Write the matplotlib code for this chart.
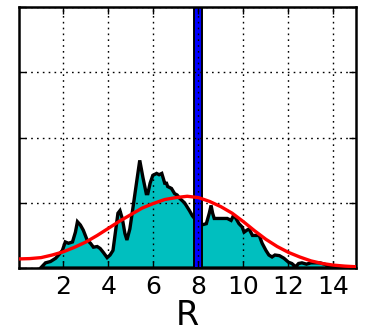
import matplotlib
matplotlib.use("Agg")
import matplotlib.pyplot as plt

# Distribution of R: binned density (outline) and fitted curve
r_bins = [0.98, 1.2, 1.42, 1.65, 1.78, 1.95, 2.08, 2.22, 2.4, 2.53, 2.62, 2.75,
          2.88, 3.05, 3.2, 3.33, 3.5, 3.63, 3.77, 3.94, 4.07, 4.2, 4.42, 4.51,
          4.62, 4.73, 4.82, 4.95, 5.09, 5.26, 5.39, 5.53, 5.68, 5.75, 5.85, 5.97,
          6.14, 6.25, 6.37, 6.5, 6.58, 6.63, 6.8, 6.94, 7.05, 7.16, 7.38, 7.6,
          7.73, 7.85, 8.0, 8.13, 8.35, 8.48, 8.56, 8.63, 8.7, 9.0, 9.28, 9.45,
          9.55, 9.65, 9.8, 9.94, 10.03, 10.15, 10.25, 10.4, 10.55, 10.7, 10.83,
          11.0, 11.13, 11.27, 11.4, 11.6, 11.8, 12.0, 12.15, 12.32, 12.45, 12.6,
          12.8, 13.0, 13.2, 13.4, 13.6, 13.85, 14.1, 14.4, 14.8]
density = [0.0, 0.08, 0.1, 0.15, 0.2, 0.27, 0.4, 0.38, 0.4, 0.55, 0.71, 0.66,
           0.58, 0.43, 0.38, 0.32, 0.33, 0.3, 0.24, 0.16, 0.2, 0.27, 0.84, 0.88,
           0.75, 0.53, 0.43, 0.6, 0.93, 1.34, 1.65, 1.39, 1.14, 1.14, 1.3, 1.42,
           1.45, 1.43, 1.45, 1.3, 1.3, 1.25, 1.22, 1.14, 1.12, 1.07, 1.0, 0.88,
           0.8, 0.75, 0.7, 0.66, 0.68, 0.84, 0.96, 0.84, 0.76, 0.76, 0.76, 0.73,
           0.8, 0.77, 0.68, 0.63, 0.55, 0.58, 0.6, 0.5, 0.5, 0.5, 0.38,
           0.27, 0.2, 0.17, 0.2, 0.19, 0.15, 0.09, 0.07, 0.02, 0.07, 0.08,
           0.06, 0.08, 0.08, 0.08, 0.06, 0.03, 0.02, 0.01, 0.0]

fit_r = [0, 0.5, 1, 1.5, 2, 2.5, 3, 3.5, 4, 4.5, 5, 5.5, 6, 6.5, 7, 7.5, 8,
         8.5, 9, 9.5, 10, 10.5, 11, 11.5, 12, 12.5, 13, 13.5, 14, 14.5, 15]
fit_density = [0.14, 0.145, 0.16, 0.2, 0.25, 0.32, 0.4, 0.5, 0.61, 0.72, 0.82,
               0.92, 0.99, 1.05, 1.08, 1.1, 1.08, 1.02, 0.94, 0.84, 0.71, 0.57,
               0.44, 0.33, 0.24, 0.17, 0.11, 0.07, 0.045, 0.03, 0.02]

# Marked value band
band_lo, band_hi = 7.79, 8.15

x_ticks = [2, 4, 6, 8, 10, 12, 14]
y_ticks = [0, 1, 2, 3, 4]

fig = plt.figure(figsize=(3.7, 3.33), dpi=100)
ax = fig.add_axes([0.05, 0.195, 0.912, 0.784])

ax.fill(r_bins, density, facecolor=(0, 0.75, 0.75), edgecolor="black",
        linewidth=2.4, zorder=1)
ax.axvspan(band_lo, band_hi, facecolor="#0000ff", edgecolor="black",
           linewidth=1.4, zorder=1.5)
ax.plot(fit_r, fit_density, color="red", linewidth=2.4, zorder=3)

ax.set_xlim(0, 15)
ax.set_ylim(0, 4)
ax.set_xticks(x_ticks)
ax.set_xticklabels([str(t) for t in x_ticks])
ax.set_yticks(y_ticks)
ax.set_yticklabels([])
ax.set_axisbelow(False)
ax.grid(True, color="black", linestyle=(0, (1.2, 3)), linewidth=1)

ax.tick_params(direction="in", top=True, right=True, length=5, width=1,
               labelsize=18, pad=5)
for s in ax.spines.values():
    s.set_linewidth(1.8)

ax.set_xlabel("R", fontsize=24, labelpad=0)

fig.savefig("out.png", dpi=100)
